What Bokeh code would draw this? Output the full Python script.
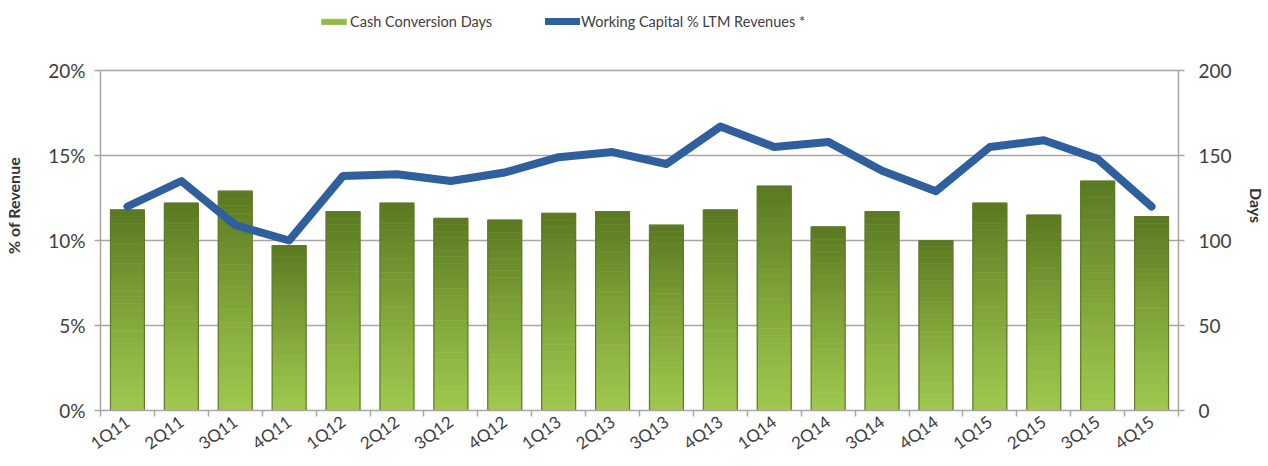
import math
from bokeh.plotting import figure
from bokeh.models import (Range1d, LinearAxis, FixedTicker, NumeralTickFormatter,
                          ColumnDataSource, Legend, LegendItem)
from bokeh.embed import file_html
from bokeh.resources import INLINE

# ---------------- data ----------------
quarters = ["1Q11", "2Q11", "3Q11", "4Q11", "1Q12", "2Q12", "3Q12", "4Q12",
            "1Q13", "2Q13", "3Q13", "4Q13", "1Q14", "2Q14", "3Q14", "4Q14",
            "1Q15", "2Q15", "3Q15", "4Q15"]
cash_conversion_days = [118, 122, 129, 97, 117, 122, 113, 112,
                        116, 117, 109, 118, 132, 108, 117, 100,
                        122, 115, 135, 114]
working_capital_pct = [12.0, 13.5, 10.9, 10.0, 13.8, 13.9, 13.5, 14.0,
                       14.9, 15.2, 14.5, 16.7, 15.5, 15.8, 14.1, 12.9,
                       15.5, 15.9, 14.8, 12.0]
pct_ticks = [0, 0.05, 0.10, 0.15, 0.20]
day_ticks = [0, 50, 100, 150, 200]

FONT = "Lato"
TXT = "#404040"
GRID = "#a6a6a6"

# layout (pixels): figure 1268x466, plot frame reaches the top edge so the
# legend can sit inside it; the axes are bounded to 0..20% / 0..200 days.
W, H = 1268, 466
LEFT, RIGHT, BOTTOM = 100, 85, 56
AXIS_TOP_PX = 70                     # where 20% / 200 days sits
frame_h = H - BOTTOM
scale = frame_h / (frame_h - AXIS_TOP_PX)
pct_max, day_max = pct_ticks[-1], day_ticks[-1]

xs = [i + 0.5 for i in range(len(quarters))]

p = figure(width=W, height=H, x_range=Range1d(0, len(quarters)),
           y_range=Range1d(0, pct_max * scale), output_backend="svg",
           toolbar_location=None, min_border_left=LEFT, min_border_right=RIGHT,
           min_border_top=0, min_border_bottom=BOTTOM)
p.extra_y_ranges = {"days": Range1d(0, day_max * scale)}
p.outline_line_color = None
p.background_fill_color = "white"
p.border_fill_color = "white"

# ---------- gradient bars (slices of each bar) ----------
N = 30
light = (160, 200, 78)
dark = (90, 121, 32)
sx, sb, st, sc = [], [], [], []
for x, v in zip(xs, cash_conversion_days):
    for k in range(N):
        t = (k + 0.5) / N
        c = tuple(int(round(light[j] + (dark[j] - light[j]) * t ** 1.1)) for j in range(3))
        sx.append(x)
        sb.append(v * k / N)
        st.append(v * (k + 1) / N)
        sc.append("#%02x%02x%02x" % c)
slices = ColumnDataSource(dict(x=sx, bottom=sb, top=st, color=sc))
bars_r = p.vbar(x="x", bottom="bottom", top="top", width=0.63, source=slices,
                fill_color="color", line_color="color", line_width=0.6,
                y_range_name="days")
p.vbar(x=xs, top=cash_conversion_days, width=0.63, fill_color=None,
       line_color="#5f7a2a", line_width=1.2, y_range_name="days")

# ---------- line ----------
line_r = p.line(xs, [v / 100 for v in working_capital_pct], line_width=8,
                line_color="#2f5f9c", line_join="round", line_cap="round")

# ---------- axes ----------
ly = p.yaxis[0]
ly.ticker = FixedTicker(ticks=pct_ticks)
ly.formatter = NumeralTickFormatter(format="0%")
ly.axis_label = "% of Revenue"
ly.bounds = (0, pct_max)

ry = LinearAxis(y_range_name="days", ticker=FixedTicker(ticks=day_ticks),
                axis_label="Days", bounds=(0, day_max))
p.add_layout(ry, "right")

for ax in (ly, ry):
    ax.axis_line_color = GRID
    ax.axis_line_width = 1.5
    ax.major_tick_line_color = GRID
    ax.major_tick_line_width = 1.5
    ax.major_tick_out = 6
    ax.major_tick_in = 0
    ax.minor_tick_line_color = None
    ax.major_label_text_font = FONT
    ax.major_label_text_font_size = "19px"
    ax.major_label_text_color = TXT
    ax.axis_label_text_font = FONT
    ax.axis_label_text_font_size = "16px"
    ax.axis_label_text_font_style = "bold"
    ax.axis_label_text_color = "#333333"
ly.major_label_standoff = 9
ly.axis_label_standoff = 22
ry.major_label_standoff = 14
ry.axis_label_standoff = 12

xa = p.xaxis[0]
xa.ticker = FixedTicker(ticks=xs, minor_ticks=list(range(len(quarters) + 1)))
xa.major_label_overrides = {x: q for x, q in zip(xs, quarters)}
xa.major_tick_line_color = None
xa.minor_tick_line_color = GRID
xa.minor_tick_line_width = 1.5
xa.minor_tick_out = 6
xa.minor_tick_in = 0
xa.axis_line_color = GRID
xa.axis_line_width = 1.5
xa.major_label_orientation = 0.63
xa.major_label_text_font = FONT
xa.major_label_text_font_size = "17px"
xa.major_label_text_color = TXT
xa.major_label_standoff = 3

p.xgrid.visible = False
p.ygrid.grid_line_color = GRID
p.ygrid.grid_line_width = 1.5

# ---------- legends ----------
def make_legend(item, x, gw):
    leg = Legend(items=[item], location=(x, frame_h - 31), orientation="horizontal",
                 padding=0, margin=0, spacing=0, label_standoff=1,
                 glyph_width=gw, glyph_height=7, label_height=20,
                 label_text_font=FONT, label_text_font_size="14.5px",
                 label_text_color=TXT, background_fill_alpha=0,
                 border_line_color=None)
    p.add_layout(leg)

make_legend(LegendItem(label="Cash Conversion Days", renderers=[bars_r], index=N // 5), 218, 31)
make_legend(LegendItem(label="Working Capital % LTM Revenues *", renderers=[line_r]), 445, 35)

open("out.html", "w").write(file_html(p, INLINE))
